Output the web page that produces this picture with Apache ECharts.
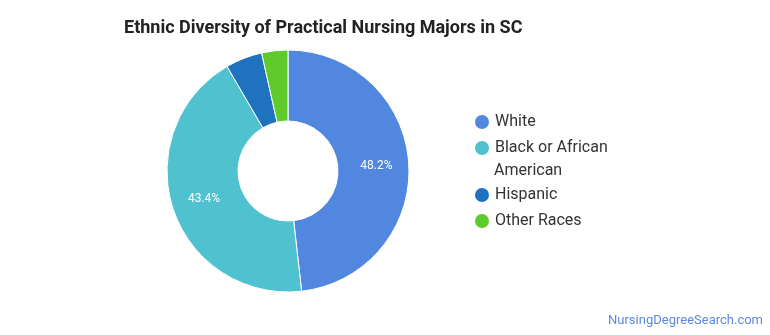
<!DOCTYPE html>
<html><head><meta charset="utf-8">
<script src="https://cdn.jsdelivr.net/npm/echarts@6/dist/echarts.min.js"></script>
<style>html,body{margin:0;padding:0;background:#fff}#c{width:770px;height:335px}</style>
</head><body><div id="c"></div>
<script>
const titleText = 'Ethnic Diversity of Practical Nursing Majors in SC';
const categories = ['White', 'Black or African American', 'Hispanic', 'Other Races'];
const legendLine1 = ['White', 'Black or African', 'Hispanic', 'Other Races'];
const legendLine2 = ['', 'American', '', ''];
const values = [48.2, 43.4, 4.9, 3.5];
const colors = ['#5287e0', '#4fc1cf', '#1f72bd', '#5ecb2a'];
const watermark = 'NursingDegreeSearch.com';

const chart = echarts.init(document.getElementById('c'));
const font = 'Roboto, "Noto Sans", sans-serif';
const legendTops = [108, 134, 181, 207];
const legends = categories.map((c, i) => ({
  orient: 'vertical', left: 468, top: legendTops[i],
  icon: 'circle', itemWidth: 16, itemHeight: 16, itemGap: 6,
  selectedMode: false,
  formatter: () => legendLine1[i],
  textStyle: {fontFamily: font, fontSize: 16, color: '#333'},
  data: [c]
}));
const graphics = [{
  type: 'text', right: 7, top: 314,
  style: {text: watermark, fill: '#5b8ae0', font: '13px ' + font}
}];
legendLine2.forEach((t, i) => {
  if (t) graphics.push({
    type: 'text', left: 494, top: legendTops[i] + 29,
    style: {text: t, fill: '#333', font: '16px ' + font}
  });
});
chart.setOption({
  animation: false,
  title: {
    text: titleText, left: 119, top: 14,
    textStyle: {fontFamily: font, fontSize: 18, fontWeight: 'bold', color: '#222'}
  },
  graphic: graphics,
  legend: legends,
  series: [{
    type: 'pie',
    center: [288, 171], radius: [50, 121],
    startAngle: 90, clockwise: true,
    itemStyle: {borderColor: '#fff', borderWidth: 1},
    label: {
      show: true, position: 'inside', formatter: p => p.value < 10 ? '' : p.value.toFixed(1) + '%',
      color: '#fff', fontFamily: font, fontSize: 12
    },
    labelLine: {show: false},
    emphasis: {disabled: true},
    data: categories.map((c, i) => ({name: c, value: values[i], itemStyle: {color: colors[i]}}))
  }]
});
</script></body></html>
